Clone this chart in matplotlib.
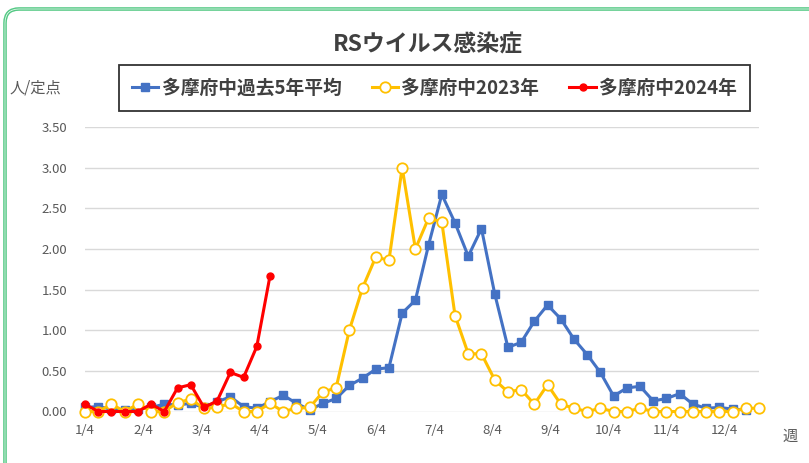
import numpy as np
import matplotlib.pyplot as plt
from matplotlib.patches import FancyBboxPatch

plt.rcParams['font.family'] = ['Noto Sans CJK JP', 'DejaVu Sans']

# week numbers (1..52)
weeks = np.arange(1, 53)

# 多摩府中 過去5年平均 (51 weeks)
avg5 = [0.05, 0.06, 0.03, 0.02, 0.03, 0.05, 0.09, 0.08, 0.10, 0.05,
        0.12, 0.18, 0.06, 0.04, 0.12, 0.20, 0.10, 0.02, 0.10, 0.16,
        0.32, 0.41, 0.52, 0.54, 1.21, 1.37, 2.05, 2.67, 2.32, 1.91,
        2.25, 1.45, 0.79, 0.85, 1.11, 1.31, 1.14, 0.89, 0.70, 0.48,
        0.19, 0.29, 0.31, 0.13, 0.16, 0.22, 0.09, 0.04, 0.05, 0.03,
        0.02]

# 多摩府中 2023年
y2023 = [0.00, 0.00, 0.09, 0.00, 0.09, 0.00, 0.00, 0.11, 0.15, 0.04,
         0.05, 0.10, 0.00, 0.00, 0.10, 0.00, 0.04, 0.05, 0.24, 0.29,
         1.00, 1.52, 1.90, 1.86, 3.00, 2.00, 2.38, 2.33, 1.18, 0.71,
         0.71, 0.39, 0.24, 0.27, 0.09, 0.33, 0.09, 0.04, 0.00, 0.04,
         0.00, 0.00, 0.04, 0.00, 0.00, 0.00, 0.00, 0.00, 0.00, 0.00,
         0.04, 0.04]

# 多摩府中 2024年
y2024 = [0.09, 0.00, 0.00, 0.00, 0.00, 0.09, 0.00, 0.29, 0.33, 0.05,
         0.13, 0.48, 0.42, 0.80, 1.67]

month_labels = ['1/4', '2/4', '3/4', '4/4', '5/4', '6/4',
                '7/4', '8/4', '9/4', '10/4', '11/4', '12/4']

fig = plt.figure(figsize=(8.09, 4.63), dpi=100)
ax = fig.add_axes([85 / 809, 51.5 / 463, 674 / 809, 284.5 / 463])

ax.plot(weeks[:len(avg5)], avg5, color='#4472C4', lw=2.2, marker='s',
        ms=5.5, label='多摩府中過去5年平均', zorder=3, clip_on=False)
ax.plot(weeks[:len(y2023)], y2023, color='#FFC000', lw=2.2, marker='o',
        ms=7.5, mfc='white', mec='#FFC000', mew=1.3,
        label='多摩府中2023年', zorder=4, clip_on=False)
ax.plot(weeks[:len(y2024)], y2024, color='#FF0000', lw=2.2, marker='o',
        ms=5, label='多摩府中2024年', zorder=5, clip_on=False)

ax.set_xlim(1, 52)
ax.set_ylim(0, 3.5)
ax.set_yticks(np.arange(0, 3.51, 0.5))
ax.set_yticklabels(['%.2f' % v for v in np.arange(0, 3.51, 0.5)])
ax.set_xticks([1 + 4.4 * i for i in range(len(month_labels))])
ax.set_xticklabels(month_labels)
ax.tick_params(axis='both', length=0, labelsize=9.5, colors='#595959')
ax.tick_params(axis='y', pad=13)
ax.tick_params(axis='x', pad=9)
ax.grid(axis='y', color='#d9d9d9', lw=1)
ax.set_axisbelow(True)
for s in ax.spines.values():
    s.set_visible(False)

fig.text(428 / 809, 1 - 45 / 463, 'RSウイルス感染症', ha='center', va='center',
         fontsize=16.5, fontweight='bold', color='#404040')
fig.text(10 / 809, 1 - 88 / 463, '人/定点', ha='left', va='center',
         fontsize=11, color='#595959')
fig.text(790 / 809, 1 - 436 / 463, '週', ha='center', va='center',
         fontsize=11, color='#595959')

leg = fig.legend(loc='center', bbox_to_anchor=(434.5 / 809, 1 - 88 / 463),
                 ncol=3, frameon=True, fancybox=False, handlelength=1.4,
                 handletextpad=0.2, columnspacing=1.6, borderpad=0.7,
                 prop={'size': 13.5, 'weight': 'bold'})
leg.get_frame().set_edgecolor('black')
leg.get_frame().set_linewidth(1.3)
for t in leg.get_texts():
    t.set_color('#404040')

# green rounded border of the chart area
border = FancyBboxPatch((5, -30), 840, 463 - 9 + 30,
                        boxstyle='round,pad=0,rounding_size=14',
                        transform=None, fill=False, ec='#55c985', lw=2.6)
inner = FancyBboxPatch((5, -30), 840, 463 - 9 + 30,
                       boxstyle='round,pad=0,rounding_size=14',
                       transform=None, fill=False, ec='white', lw=0.5)
fig.patches.extend([border, inner])

fig.savefig('out.png', dpi=100)
